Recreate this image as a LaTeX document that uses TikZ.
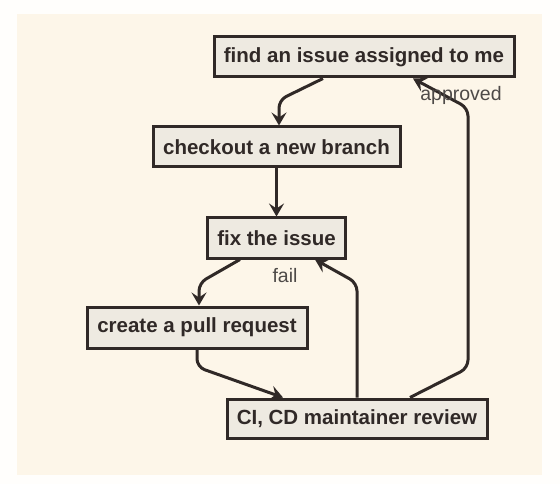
\documentclass[tikz,border=0pt]{standalone}
\usepackage{fontspec}
\setmainfont{Liberation Sans}
\usetikzlibrary{arrows.meta,calc}
\definecolor{pagebg}{HTML}{FFFEFC}
\definecolor{diagbg}{HTML}{FDF6E9}
\definecolor{boxfill}{HTML}{EEEAE1}
\definecolor{ink}{HTML}{302927}
\definecolor{labelgray}{HTML}{4E4A48}
\tikzset{
  stepbox/.style={draw=ink, fill=boxfill, line width=3pt, rectangle, inner sep=0pt,
    text=ink, font=\fontsize{20.5}{24}\selectfont\bfseries},
  flow/.style={draw=ink, line width=3pt, rounded corners=8pt,
    -{Stealth[length=13pt,width=15pt,inset=5pt]}},
  edgelabel/.style={text=labelgray, font=\fontsize{19.5}{23}\selectfont, inner sep=0pt}
}
\begin{document}
\begin{tikzpicture}[x=1pt,y=-1pt]
\useasboundingbox (0,0) rectangle (560,484);
\fill[pagebg] (0,0) rectangle (560,484);
\fill[diagbg] (17,14) rectangle (542,475);

\node[stepbox, minimum width=300pt, minimum height=40pt] (b1) at (364,57) {find an issue assigned to me};
\node[stepbox, minimum width=247pt, minimum height=40pt] (b2) at (276.5,147) {checkout a new branch};
\node[stepbox, minimum width=138pt, minimum height=40pt] (b3) at (276.5,238) {fix the issue};
\node[stepbox, minimum width=220pt, minimum height=41pt] (b4) at (197,327.5) {create a pull request};
\node[stepbox, minimum width=260pt, minimum height=39pt] (b5) at (357,418.5) {CI, CD maintainer review};

\coordinate (c1) at (279,100);
\coordinate (c3) at (199,283);
\coordinate (c4) at (197,367);
\coordinate (c5) at (357,283);
\coordinate (c6a) at (468,368);
\coordinate (c6b) at (468,108);

\draw[flow] ([xshift=-41pt]b1.south) -- (c1) -- (c1 |- b2.north);
\draw[flow] (b2.south) -- (b3.north);
\draw[flow] ([xshift=-36.5pt]b3.south) -- (c3) -- (c3 |- b4.north);
\draw[flow] (b4.south) -- (c4) -- ([xshift=-74pt]b5.north);
\draw[flow] (b5.north) -- (c5) -- ([xshift=38.5pt]b3.south);
\draw[flow] ([xshift=53pt]b5.north) -- (c6a) -- (c6b) -- ([xshift=49pt]b1.south);

\node[edgelabel] (lfail) at (285,276) {fail};
\node[edgelabel] (lappr) at (461,95) {approved};
\end{tikzpicture}
\end{document}
